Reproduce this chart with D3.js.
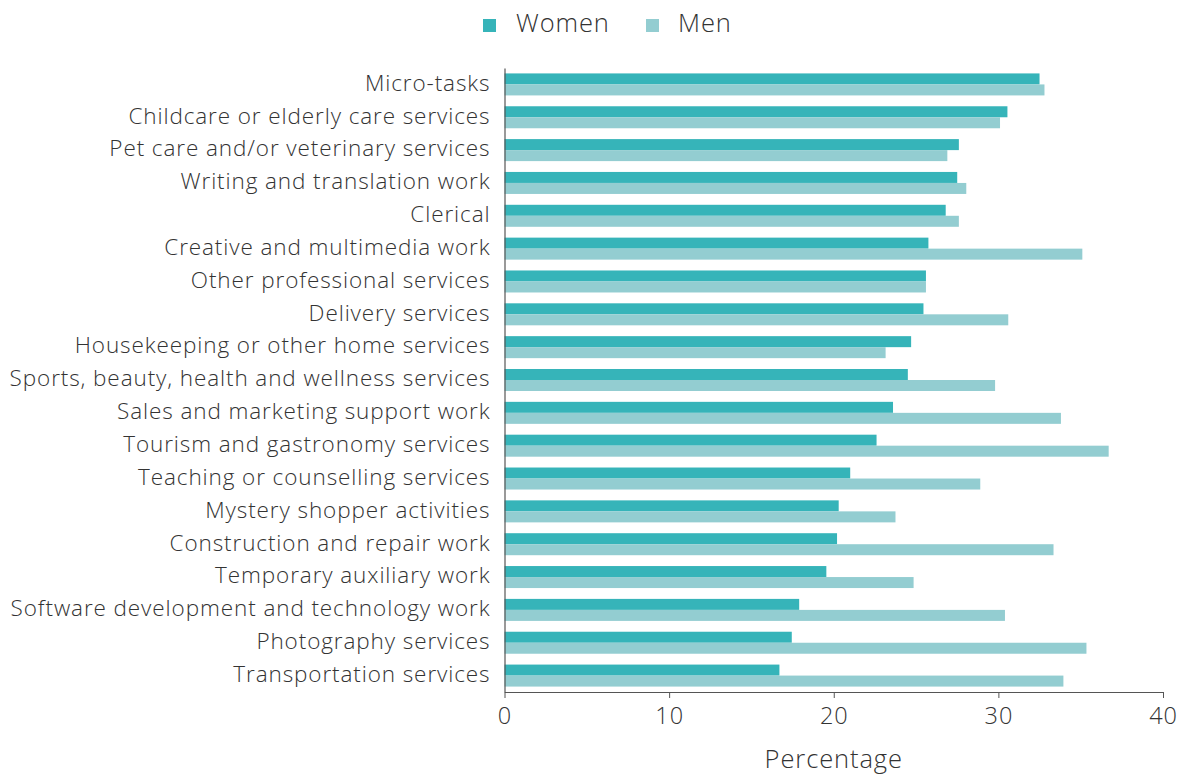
<!DOCTYPE html>
<html>
<head>
<meta charset="utf-8">
<script src="https://cdn.jsdelivr.net/npm/d3@7"></script>
<style>
  body { margin: 0; background: #fff; }
  text { font-family: "Open Sans", sans-serif; font-weight: 300; letter-spacing: 0.9px; }
</style>
</head>
<body>
<div id="chart"></div>
<script>
const categories = [
  "Micro-tasks",
  "Childcare or elderly care services",
  "Pet care and/or veterinary services",
  "Writing and translation work",
  "Clerical",
  "Creative and multimedia work",
  "Other professional services",
  "Delivery services",
  "Housekeeping or other home services",
  "Sports, beauty, health and wellness services",
  "Sales and marketing support work",
  "Tourism and gastronomy services",
  "Teaching or counselling services",
  "Mystery shopper activities",
  "Construction and repair work",
  "Temporary auxiliary work",
  "Software development and technology work",
  "Photography services",
  "Transportation services"
];
const women = [32.5, 30.55, 27.6, 27.5, 26.8, 25.75, 25.6, 25.45, 24.7, 24.5, 23.6, 22.6, 21.0, 20.3, 20.2, 19.55, 17.9, 17.45, 16.7];
const men = [32.8, 30.1, 26.9, 28.05, 27.6, 35.1, 25.6, 30.6, 23.15, 29.8, 33.8, 36.7, 28.9, 23.75, 33.35, 24.85, 30.4, 35.35, 33.95];
const seriesNames = ["Women", "Men"];
const xTicks = [0, 10, 20, 30, 40];

const width = 1182, height = 776;
const margin = { top: 68, right: 19, bottom: 84, left: 504.5 };
const colors = { Women: "#36b4b9", Men: "#93cdd1" };
const textColor = "#333";

const rows = categories.map((c, i) => ({ category: c, Women: women[i], Men: men[i] }));

const svg = d3.select("#chart").append("svg")
  .attr("width", width)
  .attr("height", height);

const x = d3.scaleLinear()
  .domain([0, 40])
  .range([margin.left, width - margin.right]);

const y = d3.scaleBand()
  .domain(categories)
  .range([margin.top, height - margin.bottom])
  .paddingInner(0.33)
  .paddingOuter(0.165);

const ySub = d3.scaleBand()
  .domain(seriesNames)
  .range([0, y.bandwidth()]);

const groups = svg.append("g")
  .selectAll("g")
  .data(rows)
  .join("g")
  .attr("transform", d => `translate(0,${y(d.category)})`);

groups.selectAll("rect")
  .data(d => seriesNames.map(s => ({ key: s, value: d[s] })))
  .join("rect")
  .attr("x", x(0))
  .attr("y", d => ySub(d.key))
  .attr("width", d => x(d.value) - x(0))
  .attr("height", ySub.bandwidth())
  .attr("fill", d => colors[d.key]);

// x axis
const xAxis = svg.append("g")
  .attr("transform", `translate(0,${height - margin.bottom})`)
  .call(d3.axisBottom(x).tickValues(xTicks).tickSize(6).tickSizeOuter(0).tickPadding(9));
xAxis.select(".domain").attr("stroke", "#555").attr("stroke-width", 1.2);
xAxis.selectAll(".tick line").attr("stroke", "#555");
xAxis.selectAll(".tick text")
  .attr("font-size", 23.5)
  .attr("fill", textColor)
  .attr("font-family", "'Open Sans', sans-serif");

// y axis
const yAxis = svg.append("g")
  .attr("transform", `translate(${margin.left},0)`)
  .call(d3.axisLeft(y).tickSize(0).tickPadding(14));
yAxis.select(".domain").attr("stroke", "#555").attr("stroke-width", 1.2);
yAxis.selectAll(".tick text")
  .attr("font-size", 22.5)
  .attr("dy", "0.28em")
  .attr("fill", textColor)
  .attr("font-family", "'Open Sans', sans-serif");

// axis title
svg.append("text")
  .attr("x", (x(0) + x(40)) / 2)
  .attr("y", 768)
  .attr("text-anchor", "middle")
  .attr("font-size", 25.5)
  .attr("fill", textColor)
  .text("Percentage");

// legend
const legendItems = [
  { name: "Women", sx: 483, tx: 516 },
  { name: "Men", sx: 646, tx: 678 }
];
const legend = svg.append("g");
legend.selectAll("rect")
  .data(legendItems)
  .join("rect")
  .attr("x", d => d.sx)
  .attr("y", 19)
  .attr("width", 13)
  .attr("height", 13)
  .attr("fill", d => colors[d.name]);
legend.selectAll("text")
  .data(legendItems)
  .join("text")
  .attr("x", d => d.tx)
  .attr("y", 32)
  .attr("font-size", 25.5)
  .attr("fill", textColor)
  .text(d => d.name);
</script>
</body>
</html>
